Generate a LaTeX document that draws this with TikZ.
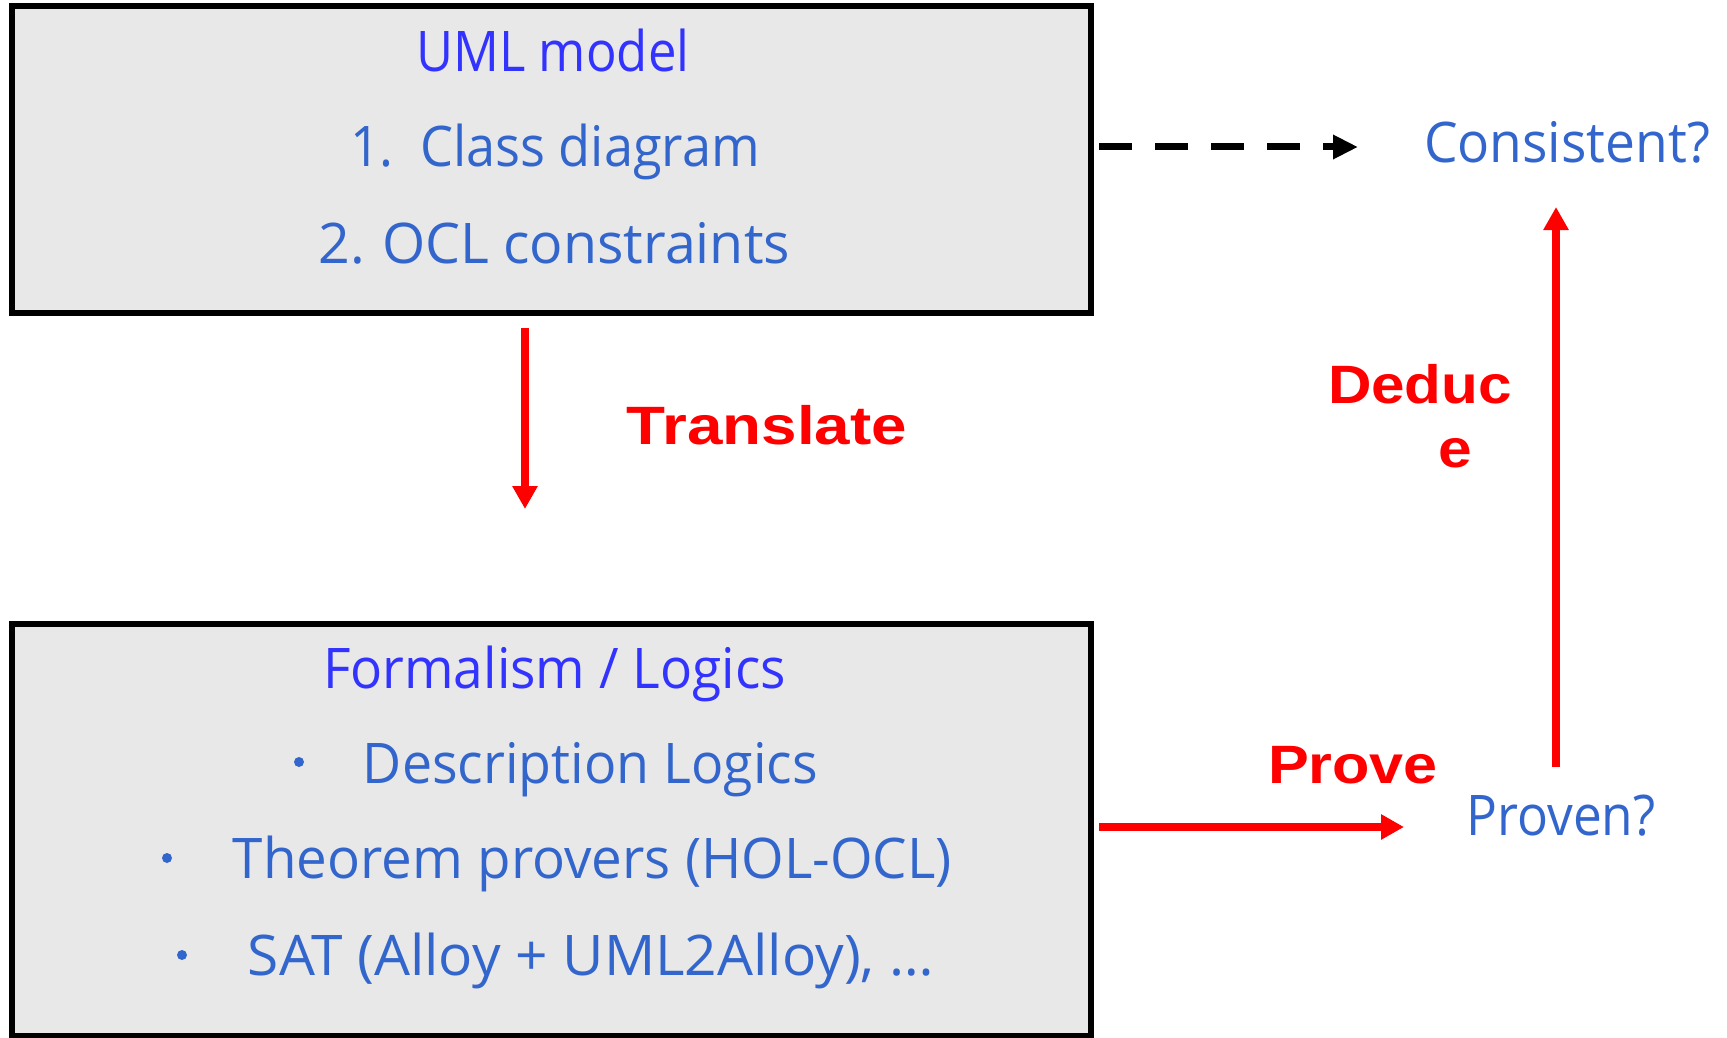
\documentclass[tikz,border=0pt]{standalone}
\usepackage{fontspec}
\usepackage{graphicx}
\usetikzlibrary{arrows.meta}
\newfontfamily\bluefont{Open Sans}
\newfontfamily\redfont{Liberation Sans}
\definecolor{titleblue}{RGB}{51,51,255}
\definecolor{itemblue}{RGB}{51,102,204}
\definecolor{boxgray}{RGB}{232,232,232}
\newcommand{\fitw}[2]{\resizebox{#1pt}{\height}{#2}}
\tikzset{
  panel/.style={draw=black, line width=6pt, fill=boxgray, inner sep=0pt},
  titletext/.style={text=titleblue, font=\bluefont\fontsize{56}{60}\selectfont, inner sep=0pt, anchor=base},
  itemtext/.style={text=itemblue, font=\bluefont\fontsize{56}{60}\selectfont, inner sep=0pt, anchor=base},
  redlabel/.style={text=red, font=\redfont\bfseries\fontsize{54}{58}\selectfont, inner sep=0pt, anchor=base},
  bulletdot/.style={circle, fill=itemblue, inner sep=0pt, minimum size=10pt},
  redarrow/.style={draw=red, line width=8pt, -{Triangle[length=23pt,width=24pt]}},
  dasharrow/.style={draw=black, line width=7pt, dash pattern=on 33pt off 23pt, -{Triangle[length=25pt,width=23pt]}}
}
\begin{document}
\begin{tikzpicture}[x=1pt,y=-1pt]
\useasboundingbox (0,0) rectangle (1727,1038);
% boxes
\node[panel, minimum width=1079.5pt, minimum height=306.5pt] (uml) at (551.25,159.75) {};
\node[panel, minimum width=1079.5pt, minimum height=412pt] (formal) at (551.25,829.5) {};
% top box texts
\node[titletext] (umltitle) at (553,72) {\fitw{273}{UML model}};
\node[itemtext] (item1) at (555,167) {\fitw{410}{1.\hspace{0.5em}Class diagram}};
\node[itemtext] (item2) at (554.5,263) {\fitw{471}{2.\hspace{0.3em}OCL constraints}};
% bottom box texts
\node[titletext] (ftitle) at (554.5,688) {\fitw{463}{Formalism / Logics}};
\node[bulletdot] (b1) at (299,762) {};
\node[itemtext] (desc) at (590.5,783) {\fitw{455}{Description Logics}};
\node[bulletdot] (b2) at (167,858) {};
\node[itemtext] (thm) at (592.5,878) {\fitw{719}{Theorem provers (HOL-OCL)}};
\node[bulletdot] (b3) at (182,955) {};
\node[itemtext] (sat) at (591,975) {\fitw{686}{SAT (Alloy + UML2Alloy), \dots}};
% right texts
\node[itemtext] (cons) at (1567,162) {\fitw{286}{Consistent?}};
\node[itemtext] (proven) at (1561,835) {\fitw{189}{Proven?}};
% red labels
\node[redlabel] (translate) at (767,444) {\fitw{280}{Translate}};
\node[redlabel] (deduc) at (1420,403) {\fitw{184}{Deduc}};
\node[redlabel] (deduce) at (1455,467) {\scalebox{1.12}[1]{e}};
\node[redlabel] (prove) at (1353,783) {\fitw{170}{Prove}};
% arrow endpoints
\coordinate (trS) at (525,328);
\coordinate (trE) at (525,509);
\coordinate (pvS) at (1099,827);
\coordinate (pvE) at (1404,827);
\coordinate (ddS) at (1556,767);
\coordinate (ddE) at (1556,207);
\coordinate (csS) at (1099,147);
\coordinate (csE) at (1358,147);
% arrows
\draw[redarrow] (trS) -- (trE);
\draw[redarrow] (pvS) -- (pvE);
\draw[redarrow] (ddS) -- (ddE);
\draw[dasharrow] (csS) -- (csE);
\end{tikzpicture}
\end{document}
